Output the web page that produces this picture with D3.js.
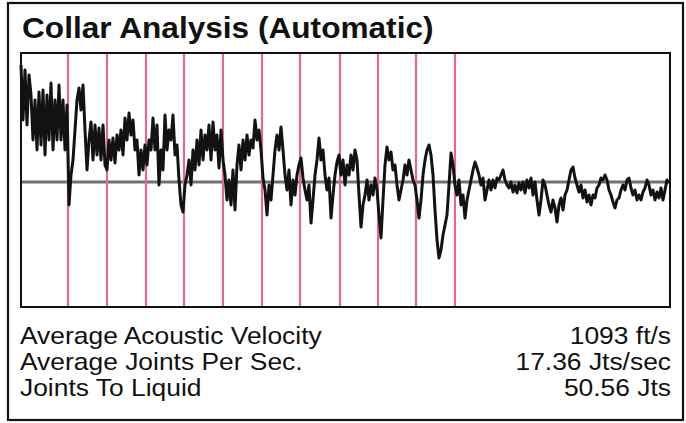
<!DOCTYPE html>
<html>
<head>
<meta charset="utf-8">
<script src="https://cdn.jsdelivr.net/npm/d3@7"></script>
<style>
  html, body { margin: 0; padding: 0; background: #fff; }
  svg { display: block; }
</style>
</head>
<body>
<svg id="chart" width="686" height="423"></svg>
<script>
// acoustic trace, one sample every 2 px of the original plot (0 = baseline)
const trace = [
  117, 62, 112, 57, 107, 87, 42, 82, 32, 90,
  37, 92, 27, 87, 42, 99, 32, 82, 42, 97,
  42, 82, 32, 77, -23, 7, 22, 52, 82, 94,
  72, 97, 52, 12, 42, 60, 22, 57, 27, 54,
  22, 57, 17, 12, 42, 22, 44, 19, 47, 32,
  52, 27, 64, 42, 69, 47, 62, 32, 42, 7,
  32, 12, 37, 17, 42, 32, 64, 32, 57, -3,
  32, 12, 67, 32, 52, 42, 67, 27, 37, 2,
  -23, -30, -3, 7, 22, -3, 32, 12, 42, 17,
  52, 22, 47, 32, 57, 22, 60, 32, 47, 14,
  52, 22, 7, -18, 2, -23, 12, -28, 17, 37,
  12, 42, 22, 47, 27, 42, 34, 62, 42, 52,
  32, 4, -8, -33, -3, -18, 7, 32, 47, 32,
  55, 32, 7, -8, 12, -23, 2, -13, 7, 17,
  24, 4, -8, -18, -3, -41, -18, 7, 22, 44,
  22, 32, 7, -8, 4, -36, -13, 7, 20, 27,
  7, 22, -3, 17, 7, 27, 12, 32, 22, -13,
  -45, -23, -13, 2, -18, -3, -13, 4, -8, -33,
  -56, -18, 17, 35, 22, 30, 12, 17, -3, -18,
  -8, 2, 17, 7, 22, 12, 2, -3, -18, -36,
  -18, 7, 22, 32, 37, 27, 7, -28, -58, -76,
  -68, -53, -43, -33, -3, 29, 17, -3, -13, 2,
  -23, -13, -36, -18, -8, 2, 12, 20, 14, 7,
  -3, 4, -18, -8, 2, -8, 2, -6, 4, 2,
  7, 12, 2, -3, -6, 0, -10, -3, -11, -1,
  -8, 0, -11, 2, -6, 4, -13, 0, -18, -33,
  -18, 2, -3, -13, -23, -30, -18, -26, -40, -23,
  -16, -28, -13, -8, 2, 12, 15, 4, -3, -10,
  -3, -16, -8, -20, -13, -23, -13, -16, -6, -3,
  4, 2, 7, 2, -8, -13, -20, -26, -18, -16,
  -8, -3, -8, 2, 4, -6, -13, -8, -18, -13,
  -18, -10, -6, 2, -3, -13, -8, -18, -10, -16,
  -6, -18, -8, 2, -1
];

// detected collars, as sample positions
const collars = [23.5, 43, 62.5, 81.5, 101, 120.5, 139.5, 159.5, 178.5, 197.5, 217];

const labels = ["Average Acoustic Velocity", "Average Joints Per Sec.", "Joints To Liquid"];
const values = ["1093 ft/s", "17.36 Jts/sec", "50.56 Jts"];

const svg = d3.select("#chart");
const plot = { left: 21, top: 53, right: 670, bottom: 307 };

// outer card
svg.append("rect")
  .attr("x", 8).attr("y", 3)
  .attr("width", 675).attr("height", 417)
  .attr("fill", "#fff")
  .attr("stroke", "#111")
  .attr("stroke-width", 2.2);

svg.append("text")
  .attr("transform", "translate(22,38) scale(1.09,1)")
  .attr("font-family", "Liberation Sans, Arial, sans-serif")
  .attr("font-weight", "bold")
  .attr("font-size", 29)
  .attr("fill", "#111")
  .text("Collar Analysis (Automatic)");

const x = d3.scaleLinear()
  .domain([0, trace.length - 1])
  .range([plot.left, plot.right - 1]);

const y = d3.scaleLinear()
  .domain([-125, 129])
  .range([plot.bottom, plot.top]);

// baseline
svg.append("line")
  .attr("x1", plot.left).attr("x2", plot.right)
  .attr("y1", y(0)).attr("y2", y(0))
  .attr("stroke", "#707070")
  .attr("stroke-width", 2.8);

// collar markers
svg.append("g")
  .selectAll("line").data(collars).enter().append("line")
  .attr("x1", d => x(d)).attr("x2", d => x(d))
  .attr("y1", plot.top).attr("y2", plot.bottom)
  .attr("stroke", "#dc6a92")
  .attr("stroke-width", 2.2);

const line = d3.line()
  .x((d, i) => x(i))
  .y(d => y(d));

svg.append("path")
  .datum(trace)
  .attr("d", line)
  .attr("fill", "none")
  .attr("stroke", "#121212")
  .attr("stroke-width", 3)
  .attr("stroke-linejoin", "round");

// plot frame
svg.append("rect")
  .attr("x", plot.left).attr("y", plot.top)
  .attr("width", plot.right - plot.left)
  .attr("height", plot.bottom - plot.top)
  .attr("fill", "none")
  .attr("stroke", "#111")
  .attr("stroke-width", 2);

// summary rows
const rows = svg.append("g")
  .attr("font-family", "Liberation Sans, Arial, sans-serif")
  .attr("font-size", 24)
  .attr("fill", "#111");

labels.forEach((label, i) => {
  const baseY = 344 + i * 26;
  rows.append("text")
    .attr("transform", `translate(20,${baseY}) scale(1.1,1)`)
    .text(label);
  rows.append("text")
    .attr("transform", `translate(671,${baseY}) scale(1.1,1)`)
    .attr("text-anchor", "end")
    .text(values[i]);
});
</script>
</body>
</html>
